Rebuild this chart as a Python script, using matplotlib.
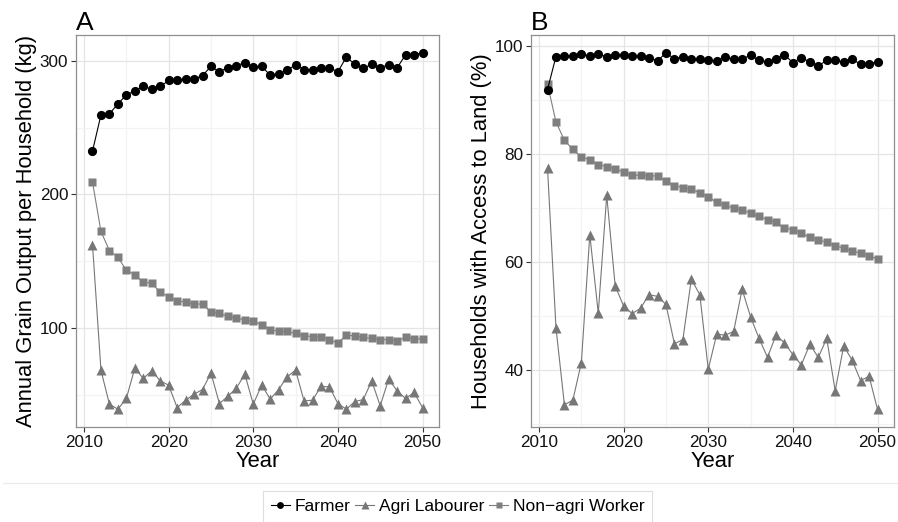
import numpy as np
import matplotlib
matplotlib.use("Agg")
import matplotlib.pyplot as plt
from matplotlib.lines import Line2D

plt.rcParams['font.family'] = ['Liberation Sans', 'DejaVu Sans']

years = list(range(2011, 2051))

grain_farmer = [232.5, 259.5, 260.3, 267.8, 274.5, 277.5, 280.8, 278.8, 280.8, 285.3,
                285.8, 286.5, 286.3, 289.0, 295.8, 291.8, 295.0, 296.5, 298.5, 295.5,
                295.8, 289.3, 290.3, 293.0, 297.0, 293.5, 293.3, 294.3, 294.8, 291.8,
                302.8, 297.5, 294.5, 297.3, 295.0, 297.0, 294.8, 304.5, 304.5, 306.0]
grain_labourer = [162.5, 68.5, 43.0, 39.3, 47.3, 70.0, 62.3, 68.0, 60.5, 57.3,
                  40.5, 46.0, 50.5, 54.0, 66.3, 43.5, 49.0, 55.0, 65.5, 43.0,
                  57.5, 46.8, 54.0, 63.5, 68.5, 45.5, 46.0, 56.3, 56.0, 43.5,
                  39.3, 45.0, 46.5, 60.5, 41.8, 61.8, 53.0, 47.3, 51.8, 40.5]
grain_nonagri = [209.3, 172.3, 158.0, 153.0, 143.3, 139.8, 134.3, 133.5, 126.8, 123.5,
                 120.5, 119.3, 118.0, 118.0, 111.8, 111.0, 108.8, 107.3, 106.3, 105.0,
                 102.5, 98.8, 97.5, 97.5, 96.0, 94.3, 93.5, 93.5, 91.3, 88.8,
                 94.8, 94.0, 93.0, 92.3, 91.3, 91.3, 90.5, 93.0, 91.8, 91.8]

land_farmer = [91.9, 98.0, 98.1, 98.1, 98.5, 98.1, 98.4, 98.0, 98.3, 98.3,
               98.1, 98.1, 97.8, 97.2, 98.7, 97.6, 98.0, 97.5, 97.5, 97.3,
               97.2, 98.0, 97.5, 97.5, 98.3, 97.3, 97.0, 97.6, 98.3, 96.9,
               97.8, 97.0, 96.3, 97.3, 97.3, 97.0, 97.5, 96.6, 96.7, 97.0]
land_labourer = [77.4, 47.8, 33.5, 34.4, 41.3, 65.0, 50.5, 72.3, 55.5, 51.8,
                 50.4, 51.4, 53.9, 53.6, 52.1, 44.8, 45.6, 56.8, 53.9, 40.1,
                 46.6, 46.4, 47.1, 54.9, 49.8, 45.8, 42.3, 46.4, 45.0, 42.8,
                 40.9, 44.7, 42.3, 45.8, 36.1, 44.4, 41.8, 38.0, 38.8, 32.7]
land_nonagri = [92.9, 85.9, 82.5, 80.8, 79.4, 78.9, 78.0, 77.6, 77.2, 76.6,
                76.1, 76.0, 75.9, 75.9, 74.9, 74.1, 73.7, 73.4, 72.8, 72.0,
                71.0, 70.5, 69.9, 69.6, 69.0, 68.4, 67.8, 67.3, 66.3, 65.9,
                65.3, 64.5, 64.1, 63.6, 63.0, 62.5, 62.0, 61.6, 61.1, 60.5]

series_names = ["Farmer", "Agri Labourer", "Non\u2212agri Worker"]
panel_titles = ["A", "B"]
y_labels = ["Annual Grain Output per Household (kg)", "Households with Access to Land (%)"]
x_label = "Year"

styles = [
    dict(color="black", marker="o", ms=6.6),
    dict(color="#777777", marker="^", ms=7.2),
    dict(color="#7f7f7f", marker="s", ms=5.8),
]

fig = plt.figure(figsize=(8.98, 5.22), dpi=100)
axA = fig.add_axes([76/898, 1-427/522, (439-76)/898, (427-35)/522])
axB = fig.add_axes([531/898, 1-427/522, (894-531)/898, (427-35)/522])

panels = [
    (axA, [grain_farmer, grain_labourer, grain_nonagri], [100, 200, 300], [50, 150, 250]),
    (axB, [land_farmer, land_labourer, land_nonagri], [40, 60, 80, 100], [30, 50, 70, 90]),
]

for i, (ax, data, yt, ymin) in enumerate(panels):
    for k in [2, 1, 0]:
        st = styles[k]
        ax.plot(years, data[k], color=st["color"], lw=0.8, marker=st["marker"],
                ms=st["ms"], mec='none', mfc=st["color"], zorder=3 + (2 - k) * 0.1)
    allv = np.concatenate([np.asarray(d) for d in data])
    lo, hi = allv.min(), allv.max()
    pad = 0.05 * (hi - lo)
    ax.set_ylim(lo - pad, hi + pad)
    ax.set_xlim(2011 - 0.05 * 39, 2050 + 0.05 * 39)
    ax.set_xticks([2010, 2020, 2030, 2040, 2050])
    ax.set_xticks([2015, 2025, 2035, 2045], minor=True)
    ax.set_yticks(yt)
    ax.set_yticks(ymin, minor=True)
    ax.grid(True, which='major', color='#e5e5e5', lw=0.9, zorder=0)
    ax.grid(True, which='minor', color='#f3f3f3', lw=0.9, zorder=0)
    ax.set_axisbelow(True)
    ax.tick_params(which='minor', length=0)
    ax.tick_params(which='major', length=3.5, width=0.8, color='#333333',
                   labelsize=12.3, labelcolor='#111111', pad=2)
    for s in ax.spines.values():
        s.set_color('#8f8f8f')
        s.set_linewidth(0.9)
    ax.set_xlabel(x_label, fontsize=15.8, labelpad=1)
    ax.set_ylabel(y_labels[i], fontsize=15.8, labelpad=2)
    ax.set_title(panel_titles[i], loc='left', fontsize=19, pad=2)

# separator line above legend
fig.add_artist(Line2D([3/898, 1.0], [1-483/522, 1-483/522], transform=fig.transFigure,
                      color='#ebebeb', lw=0.9))

handles = [Line2D([], [], color=st["color"], lw=0.8, marker=st["marker"],
                  ms=st["ms"] * 0.75, mec='none') for st in styles]
leg = fig.legend(handles, series_names, loc='upper center', ncol=3,
                 bbox_to_anchor=(457.5/898, 1-491/522), fontsize=12.5,
                 frameon=True, fancybox=False, edgecolor='#d5d5d5',
                 handlelength=1.1, handletextpad=0.25, columnspacing=0.3,
                 borderpad=0.45, borderaxespad=0)
leg.get_frame().set_linewidth(0.8)

fig.savefig("out.png", dpi=100)
